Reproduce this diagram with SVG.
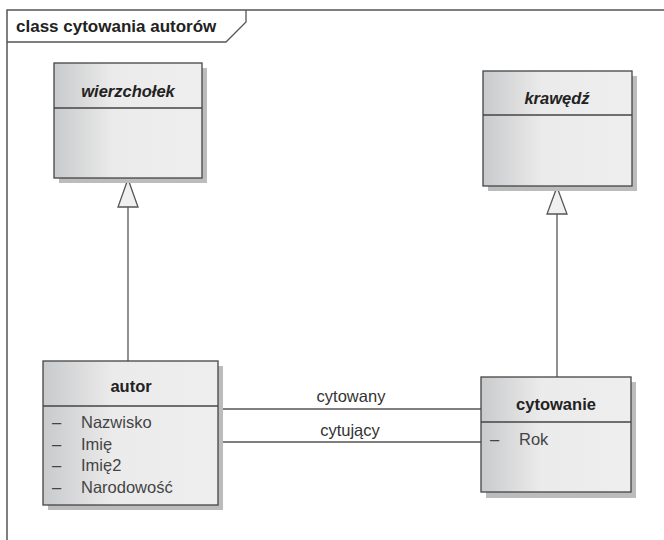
<svg xmlns="http://www.w3.org/2000/svg" width="664" height="540" viewBox="0 0 664 540">
<style>
text{font-family:"Liberation Sans",Arial,sans-serif;fill:#222}
.title{font-size:17px;font-weight:bold}
.cls{font-size:16.5px;font-weight:bold;text-anchor:middle}
.abs{font-style:italic}
.attr{font-size:16.5px;fill:#444}
.lbl{font-size:16.5px;text-anchor:middle;fill:#333}
.box{fill:url(#g);stroke:#444;stroke-width:1.3}
.shadow{fill:#bcbcbc}
.sep{stroke:#444;stroke-width:1.3}
.line{stroke:#555;stroke-width:1.3;fill:none}
.tri{fill:#f0f0f0;stroke:#555;stroke-width:1.3}
</style>
<defs>
<linearGradient id="g" x1="0" y1="0" x2="1" y2="0">
<stop offset="0" stop-color="#c9cacc"/>
<stop offset="0.4" stop-color="#ebebeb"/>
<stop offset="1" stop-color="#eeeeee"/>
</linearGradient>
</defs>
<rect width="664" height="540" fill="#fff"/>
<g id="frame">
<path d="M7,545 V10 H670" fill="none" stroke="#555" stroke-width="1.5"/>
<path d="M7,42 H226 L246,22 V10" fill="none" stroke="#555" stroke-width="1.3"/>
<text class="title" x="16" y="32">class cytowania autorów</text>
</g>
<g id="connectors">
<line class="line" x1="128" y1="207" x2="128" y2="361"/>
<polygon class="tri" points="128,179 118,207 138,207"/>
<line class="line" x1="557" y1="214" x2="557" y2="377"/>
<polygon class="tri" points="557,187 547,214 567,214"/>
<line class="line" x1="218" y1="409" x2="481" y2="409"/>
<text class="lbl" x="351" y="402">cytowany</text>
<line class="line" x1="218" y1="442" x2="481" y2="442"/>
<text class="lbl" x="350" y="436">cytujący</text>
</g>
<g id="wierzcholek">
<rect class="shadow" x="59" y="68" width="148" height="115"/>
<rect class="box" x="54" y="63" width="148" height="115"/>
<line class="sep" x1="54" y1="108" x2="202" y2="108"/>
<text class="cls abs" x="128" y="97">wierzchołek</text>
</g>
<g id="krawedz">
<rect class="shadow" x="488" y="76" width="149" height="115"/>
<rect class="box" x="483" y="71" width="149" height="115"/>
<line class="sep" x1="483" y1="115" x2="632" y2="115"/>
<text class="cls abs" x="557" y="104">krawędź</text>
</g>
<g id="autor">
<rect class="shadow" x="48" y="366" width="175" height="144"/>
<rect class="box" x="43" y="361" width="175" height="144"/>
<line class="sep" x1="43" y1="406" x2="218" y2="406"/>
<text class="cls" x="131" y="392">autor</text>
<text class="attr" x="52" y="428">–</text><text class="attr" x="81" y="428">Nazwisko</text>
<text class="attr" x="52" y="450">–</text><text class="attr" x="81" y="450">Imię</text>
<text class="attr" x="52" y="471">–</text><text class="attr" x="81" y="471">Imię2</text>
<text class="attr" x="52" y="493">–</text><text class="attr" x="81" y="493">Narodowość</text>
</g>
<g id="cytowanie">
<rect class="shadow" x="486" y="382" width="150" height="116"/>
<rect class="box" x="481" y="377" width="150" height="115"/>
<line class="sep" x1="481" y1="422" x2="631" y2="422"/>
<text class="cls" x="556" y="410">cytowanie</text>
<text class="attr" x="490" y="445">–</text><text class="attr" x="519" y="445">Rok</text>
</g>
</svg>
